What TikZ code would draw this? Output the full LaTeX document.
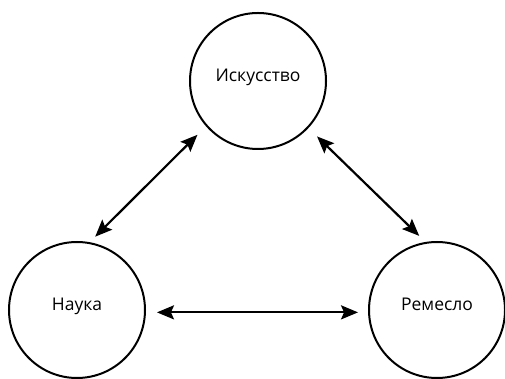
\documentclass[tikz,border=0pt]{standalone}
\usepackage{fontspec}
\setmainfont{Open Sans}
\usetikzlibrary{arrows.meta}

\begin{document}
\begin{tikzpicture}[x=1pt,y=1pt,
  ring/.style={circle,draw,line width=2pt,minimum size=136pt,inner sep=0pt,outer sep=0pt,
    font=\fontsize{17.5}{21}\selectfont,text height=12pt,text depth=10pt},
  link/.style={{Stealth[length=17pt,width=14pt,inset=3pt]}-{Stealth[length=17pt,width=14pt,inset=3pt]},line width=2.2pt}]
\useasboundingbox (0,0) rectangle (505,379);
% draw circles
\node[ring] (art) at (258,298) {Искусство};
\node[ring] (sci) at (77,69) {Наука};
\node[ring] (craft) at (437,69) {Ремесло};
% draw arrows
\draw[link,shorten <=9pt,shorten >=13pt] (sci.80) -- (art.221);
\draw[link,shorten <=13pt,shorten >=10pt] (art.317) -- (craft.99);
\draw[link,shorten <=12pt,shorten >=11pt] (sci.-2.5) -- (craft.182.5);
\end{tikzpicture}
\end{document}
